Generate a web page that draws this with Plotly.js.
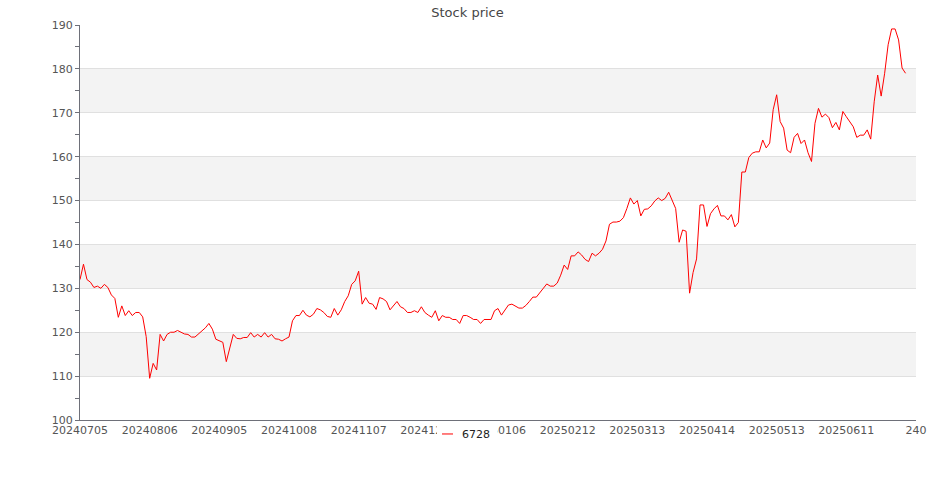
<!DOCTYPE html>
<html>
<head>
<meta charset="utf-8">
<script src="https://cdn.plot.ly/plotly-3.0.1.min.js"></script>
<style>
  html, body { margin: 0; padding: 0; background: #fff; }
  #chart { width: 935px; height: 500px; }
</style>
</head>
<body>
<div id="chart"></div>
<script>
// Series name
const seriesName = "6728";

// Daily closing prices
const prices = [
  132.0,135.5,132.0,131.4,130.2,130.5,130.0,130.9,130.2,128.5,
  127.7,123.4,126.0,123.8,124.9,123.8,124.5,124.5,123.5,119.0,
  109.5,112.9,111.4,119.5,118.0,119.5,120.0,120.0,120.4,120.0,
  119.6,119.5,118.9,118.9,119.6,120.1,121.0,122.0,120.7,118.4,
  118.0,117.7,113.3,116.4,119.5,118.6,118.5,118.8,118.8,119.9,
  118.9,119.5,118.9,119.9,118.9,119.5,118.5,118.4,118.0,118.5,
  118.9,122.6,123.8,123.8,125.0,123.9,123.5,124.1,125.4,125.1,
  124.5,123.6,123.4,125.4,123.9,125.1,127.0,128.3,130.9,131.7,
  133.9,126.4,127.9,126.6,126.4,125.2,127.9,127.6,127.0,125.1,
  126.1,127.0,125.8,125.4,124.5,124.5,124.9,124.5,125.8,124.5,
  123.9,123.4,124.9,122.6,123.8,123.4,123.4,122.9,122.9,122.0,
  123.8,123.8,123.4,122.9,122.9,122.0,122.9,122.9,122.9,124.9,
  125.4,123.9,125.1,126.2,126.4,126.0,125.5,125.5,126.1,127.0,
  128.0,128.0,129.0,130.0,131.0,130.5,130.5,131.2,133.0,135.3,
  134.3,137.4,137.4,138.3,137.6,136.6,136.1,138.0,137.4,138.0,
  138.9,140.8,144.6,145.1,145.1,145.3,146.1,148.2,150.6,149.2,
  150.0,146.5,148.0,148.1,148.8,149.9,150.6,150.0,150.5,151.9,
  150.2,148.2,140.5,143.3,143.0,128.9,133.6,136.7,149.0,149.0,
  144.1,147.0,148.1,148.9,146.5,146.5,145.6,146.8,144.0,145.0,
  156.5,156.5,159.8,160.8,161.1,161.1,163.8,162.0,163.1,170.7,
  174.1,168.0,166.5,161.5,160.9,164.4,165.3,163.0,163.8,160.9,
  158.9,167.6,171.0,169.0,169.7,168.9,166.6,167.8,166.1,170.3,
  169.1,167.8,166.8,164.4,164.9,164.9,166.1,164.0,172.5,178.6,
  173.8,179.0,185.5,189.1,189.1,186.6,180.2,179.0
];

// X-axis tick labels (one every 20 trading days)
const xTickLabels = [
  "20240705","20240806","20240905","20241008","20241107","20241206",
  "20250106","20250212","20250313","20250414","20250513","20250611","240"
];
const labelStep = 20;
const categoryCount = 241;

// Y-axis range and shaded bands
const yMin = 100, yMax = 190, yStep = 10;
const shadedBands = [[170,180],[150,160],[130,140],[110,120]];

const xIdx = prices.map((_, i) => i);
const tickVals = xTickLabels.map((_, i) => i * labelStep);

const trace = {
  x: xIdx,
  y: prices,
  type: 'scatter',
  mode: 'lines',
  name: seriesName,
  line: { color: '#ff0000', width: 1 },
  hoverinfo: 'skip'
};

const shapes = shadedBands.map(b => ({
  type: 'rect', xref: 'paper', yref: 'y', x0: 0, x1: 1, y0: b[0], y1: b[1],
  fillcolor: '#f3f3f3', line: { width: 0 }, layer: 'below'
}));

const layout = {
  width: 935, height: 500,
  margin: { l: 80, r: 19, t: 25, b: 80, autoexpand: false },
  paper_bgcolor: '#ffffff',
  plot_bgcolor: '#ffffff',
  font: { family: 'DejaVu Sans, sans-serif', size: 11, color: '#555' },
  title: {
    text: 'Stock price',
    font: { family: 'DejaVu Sans, sans-serif', size: 13, color: '#464646' },
    x: 0.5, xref: 'container', xanchor: 'center',
    y: 0.976, yref: 'container', yanchor: 'middle'
  },
  showlegend: true,
  legend: {
    orientation: 'h',
    xref: 'paper', x: (437 - 80) / 836, xanchor: 'left',
    yref: 'paper', y: -0.0354, yanchor: 'middle',
    bgcolor: '#ffffff', borderwidth: 0,
    font: { family: 'DejaVu Sans, sans-serif', size: 11, color: '#222' }
  },
  xaxis: {
    type: 'linear',
    range: [0, categoryCount - 1],
    tickmode: 'array', tickvals: tickVals, ticktext: xTickLabels,
    tickangle: 0,
    showgrid: false, zeroline: false,
    showline: true, linecolor: '#6e7079', linewidth: 1,
    ticks: '', tickfont: { size: 11, color: '#555' },
    fixedrange: true
  },
  yaxis: {
    range: [yMin, yMax], dtick: yStep, tick0: yMin,
    showgrid: true, gridcolor: '#e0e0e0', gridwidth: 1,
    zeroline: false,
    showline: true, linecolor: '#6e7079', linewidth: 1,
    ticks: 'outside', ticklen: 4, tickcolor: '#6e7079',
    minor: { dtick: 5, ticks: 'outside', ticklen: 4, tickcolor: '#6e7079', showgrid: false },
    tickfont: { size: 11, color: '#555' },
    fixedrange: true
  },
  shapes: shapes,
  hovermode: false
};

Plotly.newPlot('chart', [trace], layout, { displayModeBar: false, staticPlot: true }).then(() => {
  // Make the legend sample short, like the reference
  const leg = document.querySelector('.legend');
  if (!leg) return;
  const p = leg.querySelector('.legendlines path');
  if (p) p.setAttribute('d', 'M5,0h11');
  const t = leg.querySelector('.legendtext');
  if (t) t.setAttribute('x', 25);
  const bg = leg.querySelector('rect.bg');
  if (bg) {
    bg.setAttribute('width', 60);
    // keep the x-axis line visible above the legend box
    const host = document.getElementById('chart').getBoundingClientRect();
    const r = bg.getBoundingClientRect();
    const top = r.top - host.top;
    const minTop = 423;
    if (top < minTop) {
      const d = minTop - top;
      const y0 = parseFloat(bg.getAttribute('y') || '0');
      const h = parseFloat(bg.getAttribute('height') || r.height);
      bg.setAttribute('y', y0 + d);
      bg.setAttribute('height', Math.max(h - 2 * d, 10));
    }
  }
});
</script>
</body>
</html>
